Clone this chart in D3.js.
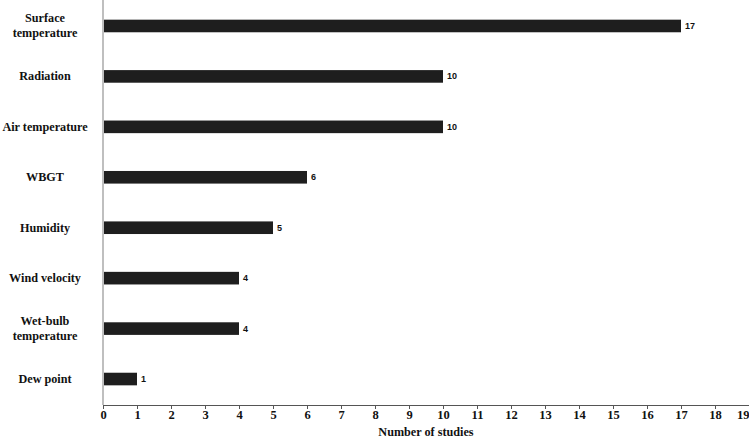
<!DOCTYPE html>
<html>
<head>
<meta charset="utf-8">
<script src="https://cdn.jsdelivr.net/npm/d3@7"></script>
<style>
  body { margin: 0; background: #fff; }
  .cat { font-family: "Liberation Serif", "Times New Roman", serif; font-weight: bold; font-size: 12.2px; fill: #111; }
  .tick-lbl { font-family: "Liberation Serif", "Times New Roman", serif; font-weight: bold; font-size: 12.5px; fill: #111; }
  .val { font-family: "Liberation Sans", Arial, sans-serif; font-weight: bold; font-size: 9px; fill: #111; }
</style>
</head>
<body>
<div id="chart"></div>
<script>
// data
var categories = [
    ["Surface", "temperature"],
    ["Radiation"],
    ["Air temperature"],
    ["WBGT"],
    ["Humidity"],
    ["Wind velocity"],
    ["Wet-bulb", "temperature"],
    ["Dew point"]
];
var studies = [17, 10, 10, 6, 5, 4, 4, 1];
var xTicks = d3.range(0, 20);

var svgWidth = 749;
var svgHeight = 439;

var margin = { top: 0, right: 0, bottom: 35, left: 103 };
var width = svgWidth - margin.left - margin.right;
var height = svgHeight - margin.top - margin.bottom;

var svg = d3.select("#chart")
    .append("svg")
    .attr("width", svgWidth)
    .attr("height", svgHeight);

var g = svg.append("g")
    .attr("transform", `translate(${margin.left}, ${margin.top})`);

var x = d3.scaleLinear().domain([0, 19]).range([0, width]);
var y = d3.scaleBand()
    .domain(d3.range(categories.length))
    .range([0.5, height + 0.5])
    .paddingInner(0.75)
    .paddingOuter(0.38);

// bars
g.selectAll("rect.bar")
    .data(studies)
    .enter()
    .append("rect")
    .attr("class", "bar")
    .attr("x", 1)
    .attr("y", (d, i) => y(i))
    .attr("width", d => x(d) - 1)
    .attr("height", y.bandwidth())
    .attr("fill", "#1e1e1e");

// value labels
g.selectAll("text.val")
    .data(studies)
    .enter()
    .append("text")
    .attr("class", "val")
    .attr("x", d => x(d) + 4)
    .attr("y", (d, i) => y(i) + y.bandwidth() / 2 + 3)
    .text(d => d);

// y axis line
g.append("line")
    .attr("x1", 0).attr("x2", 0)
    .attr("y1", 0).attr("y2", height + 1)
    .attr("stroke", "#aaa")
    .attr("stroke-width", 1.5);

// category labels
categories.forEach(function(lines, i) {
    var cy = y(i) + y.bandwidth() / 2;
    var t = svg.append("text")
        .attr("class", "cat")
        .attr("text-anchor", "middle")
        .attr("x", 45)
        .attr("y", cy + 4 - (lines.length - 1) * 7.5);
    lines.forEach(function(l, j) {
        t.append("tspan")
            .attr("x", 45)
            .attr("dy", j === 0 ? 0 : 15)
            .text(l);
    });
});

// x axis
var xAxis = g.append("g")
    .attr("transform", `translate(0, ${height + 1})`)
    .call(d3.axisBottom(x).tickValues(xTicks).tickSize(4).tickSizeOuter(0));

xAxis.select(".domain").attr("stroke", "#555").attr("stroke-width", 1.2);
xAxis.selectAll(".tick line").attr("stroke", "#555");
xAxis.selectAll(".tick text")
    .attr("class", "tick-lbl")
    .attr("font-family", null)
    .attr("font-size", null)
    .attr("fill", null)
    .attr("dy", "0.45em")
    .attr("y", 8)
    .attr("text-anchor", d => d === 19 ? "end" : "middle");

svg.append("text")
    .attr("class", "cat")
    .attr("text-anchor", "middle")
    .attr("x", margin.left + x(9.5))
    .attr("y", 436)
    .text("Number of studies");
</script>
</body>
</html>
